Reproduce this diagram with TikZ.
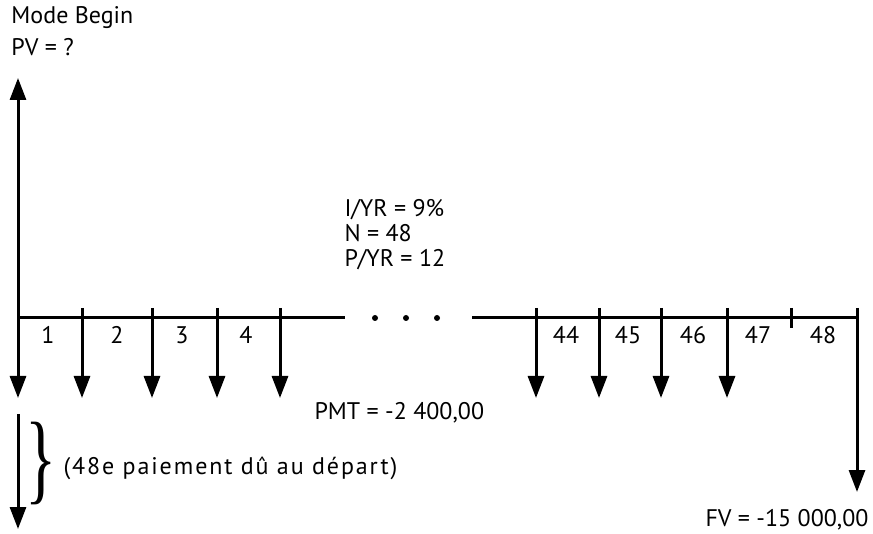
\documentclass[tikz,border=0pt]{standalone}
\usepackage{fontspec}
\setmainfont{PT Sans}
\newfontfamily\bracefont{Liberation Serif}
\usetikzlibrary{arrows.meta}
\tikzset{>={Triangle[length=22pt,width=16pt]}}

\begin{document}
\begin{tikzpicture}[x=1pt,y=-1pt,line width=3pt,
    lbl/.style={font=\fontsize{24}{25}\selectfont, inner sep=0pt},
    num/.style={lbl, anchor=center}]
    \useasboundingbox (0,0) rectangle (873,534);
    % time line
    \coordinate (t0) at (18,318);
    \coordinate (tL) at (345,318);
    \coordinate (tR) at (472,318);
    \coordinate (t48) at (857,318);
    \draw (t0) -- (tL);
    \draw (tR) -- (t48);
    \foreach \x [count=\i] in {375,406,437}
        \fill (\x,318) circle (3pt) coordinate (dot\i);
    % PV arrow and first payment
    \coordinate (pvTop) at (18,78);
    \coordinate (pvBot) at (18,398);
    \draw[<->] (pvTop) -- (pvBot);
    \foreach \x [count=\i] in {82,152,217,280}
        \draw[->] (\x,308) coordinate (a\i) -- (\x,398);
    \foreach \x [count=\i] in {536,599,661,727}
        \draw[->] (\x,308) coordinate (b\i) -- (\x,398);
    \draw (791,308) coordinate (tick47) -- (791,328);
    \draw[->] (857,308) coordinate (fvTop) -- (857,492) coordinate (fvBot);
    % period numbers
    \foreach \x/\n in {48/1,117/2,182/3,246/4,566/44,628/45,693/46,758/47,823/48}
        \node[num] (p\n) at (\x,335) {\n};
    % moved payment
    \coordinate (mvTop) at (18,414);
    \coordinate (mvBot) at (18,529);
    \draw[->] (mvTop) -- (mvBot);
    \node[inner sep=0pt] (brace) at (41,463) {\scalebox{0.65}[1]{\bracefont\fontsize{100}{100}\selectfont\}}};
    \node[lbl, anchor=west] (note) at (62,468) {\addfontfeatures{LetterSpace=8}(48e paiement dû au départ)};
    % labels
    \node[lbl, anchor=west] (mode) at (10,18) {Mode Begin};
    \node[lbl, anchor=west] (pv) at (10,47) {PV = ?};
    \node[lbl, anchor=north west, align=left] (rate) at (343,198) {I/YR = 9\%\\N = 48\\P/YR = 12};
    \node[lbl, anchor=west] (pmt) at (313,413) {PMT = -2 400,00};
    \node[lbl, anchor=east] (fv) at (870,520) {FV = -15 000,00};
\end{tikzpicture}
\end{document}
